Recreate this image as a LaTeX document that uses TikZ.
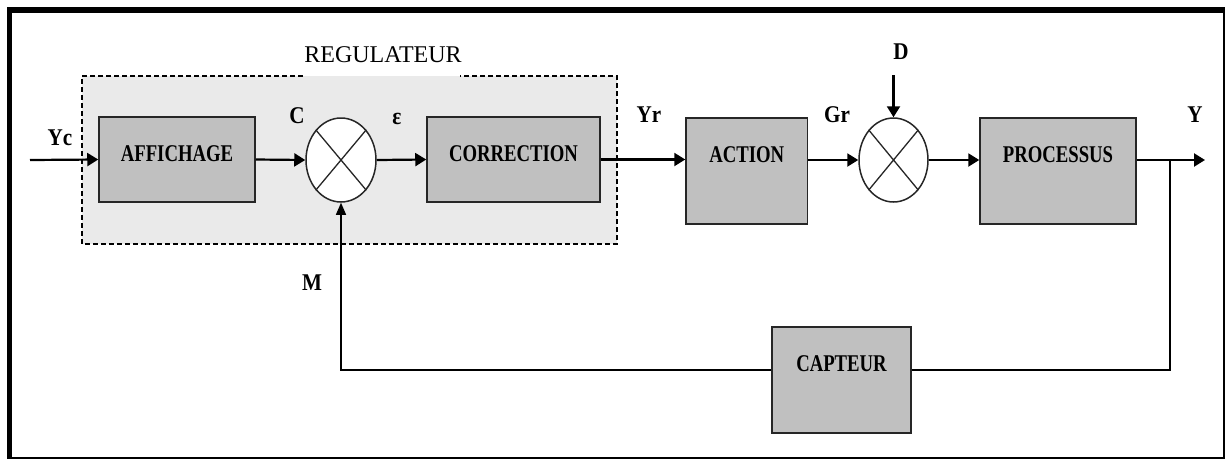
\documentclass[tikz,border=0pt]{standalone}
\usepackage{fontspec}
\setmainfont{Liberation Serif}
\newfontfamily\blockfont[FakeStretch=0.78]{Liberation Serif}
\newfontfamily\namefont[FakeStretch=0.88]{Liberation Serif}
\usetikzlibrary{arrows.meta,shapes.geometric}
\definecolor{blockgray}{HTML}{C0C0C0}
\definecolor{regfill}{HTML}{EAEAEA}
\definecolor{edgegray}{HTML}{262626}

\begin{document}
\begin{tikzpicture}[x=1pt,y=-1pt,
  blockbox/.style={draw=edgegray, line width=1.5pt, fill=blockgray, inner sep=0pt,
    text height=44pt, font=\blockfont\bfseries\fontsize{24}{26}\selectfont},
  sumjunction/.style={draw=edgegray, line width=1.5pt, fill=white, ellipse,
    inner sep=0pt, minimum width=70pt, minimum height=84pt},
  crossline/.style={line width=1.3pt, draw=edgegray},
  signal/.style={line width=2.2pt, -{Triangle[length=11pt,width=13pt]}},
  feedback/.style={line width=1.3pt},
  siglabel/.style={anchor=base, inner sep=0pt,
    font=\namefont\bfseries\fontsize{24}{26}\selectfont},
]
\useasboundingbox (0,0) rectangle (1225,459);

% outer frame: heavy top and left edges, light right and bottom edges
\draw[line width=6pt] (7,10) -- (1225,10);
\draw[line width=5.5pt] (9.5,7) -- (9.5,459);
\draw[line width=2.3pt] (1223.8,7) -- (1223.8,459);
\draw[line width=2.3pt] (7,457.8) -- (1225,457.8);

% controller area
\fill[regfill] (82,76) rectangle (617,244);
\draw[line width=1.2pt, dash pattern=on 5pt off 3pt]
  (303,76) -- (82,76) -- (82,244) -- (617,244) -- (617,76) -- (460,76);
\node[anchor=base, inner sep=0pt, font=\fontsize{24}{26}\selectfont] (lreg) at (383,62) {REGULATEUR};

% blocks
\node[blockbox, minimum width=156pt, text depth=41pt] (aff) at (177,159.5) {AFFICHAGE};
\node[blockbox, minimum width=173pt, text depth=41pt] (corr) at (513.5,159.5) {CORRECTION};
\node[blockbox, minimum width=121.5pt, text depth=62pt] (act) at (746.75,171) {ACTION};
\node[blockbox, minimum width=156pt, text depth=62pt] (proc) at (1058,171) {PROCESSUS};
\node[blockbox, minimum width=139pt, text depth=62pt] (capt) at (841.5,380) {CAPTEUR};

% summing junctions
\node[sumjunction] (s1) at (341,160) {};
\node[sumjunction, minimum width=69pt] (s2) at (893.5,160) {};
\draw[crossline] (s1.north west) -- (s1.south east) (s1.north east) -- (s1.south west);
\draw[crossline] (s2.north west) -- (s2.south east) (s2.north east) -- (s2.south west);

% free ends of the signal lines
\coordinate (yin) at (30,160);
\coordinate (yout) at (1205,160);
\coordinate (dsrc) at (893.5,75);
\coordinate (tap) at (1170,160);
\coordinate (fbR) at (1170,370);
\coordinate (fbL) at (341,370);

% forward path
\draw[signal] (yin) -- (aff.west);
\draw[signal] (aff.east) -- (s1.west);
\draw[signal] (s1.east) -- (corr.west);
\draw[signal] (corr.east) -- (corr.east -| act.west);
\draw[signal] (s2.west -| act.east) -- (s2.west);
\draw[signal] (s2.east) -- (s2.east -| proc.west);
\draw[signal] (s2.east -| proc.east) -- (yout);
\draw[signal] (dsrc) -- (s2.north);

% feedback path
\draw[feedback] (tap) -- (fbR) -- (fbR -| capt.east);
\draw[feedback, -{Triangle[length=12pt,width=10pt]}] (fbR -| capt.west) -- (fbL) -- (s1.south);

% signal names
\node[siglabel] (lyc) at (60,145) {Yc};
\node[siglabel] (lc) at (297,123) {C};
\node[siglabel] (leps) at (397,124) {ε};
\node[siglabel] (lyr) at (649,122) {Yr};
\node[siglabel] (lgr) at (837,122) {Gr};
\node[siglabel] (ld) at (901,59) {D};
\node[siglabel] (ly) at (1195,122) {Y};
\node[siglabel] (lm) at (312,290) {M};
\end{tikzpicture}
\end{document}
